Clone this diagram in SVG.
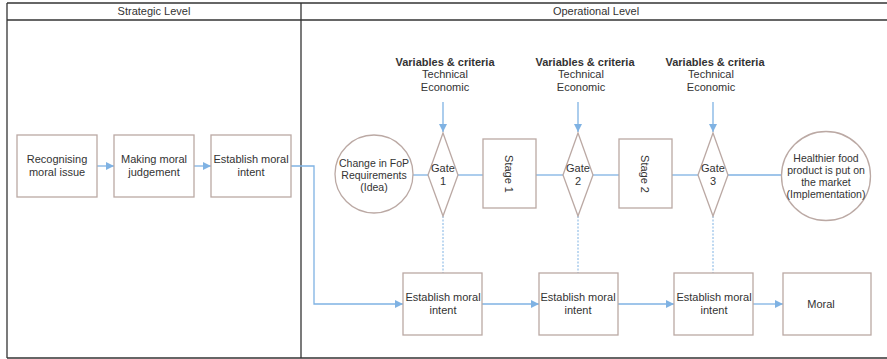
<svg xmlns="http://www.w3.org/2000/svg" width="887" height="359" viewBox="0 0 887 359">
<style>
text{font-family:"Liberation Sans",Arial,sans-serif;font-size:11px;fill:#333;text-anchor:middle}
.b{font-weight:bold}
.frame{fill:none;stroke:#333;stroke-width:1.3}
.node{fill:#fff;stroke:#bba9a4;stroke-width:1.3}
.c{fill:none;stroke:#7fb2e3;stroke-width:1.3}
.d{fill:none;stroke:#7fb2e3;stroke-width:1;stroke-dasharray:2 1.5}
</style>
<defs>
<marker id="ah" viewBox="0 0 10 10" refX="10" refY="5" markerWidth="8" markerHeight="8" markerUnits="userSpaceOnUse" orient="auto">
<path d="M0,0 L10,5 L0,10 z" fill="#7fb2e3"/>
</marker>
</defs>
<g id="frame">
<line class="frame" x1="7" y1="3" x2="887" y2="3"/>
<line class="frame" x1="7" y1="20" x2="887" y2="20"/>
<line class="frame" x1="7" y1="358" x2="887" y2="358"/>
<line class="frame" x1="7" y1="3" x2="7" y2="358"/>
<line class="frame" x1="301" y1="3" x2="301" y2="358"/>
<text x="154" y="15">Strategic Level</text>
<text x="596" y="15">Operational Level</text>
</g>
<g id="connectors">
<line class="c" x1="97" y1="166" x2="114" y2="166" marker-end="url(#ah)"/>
<line class="c" x1="194" y1="166" x2="211" y2="166" marker-end="url(#ah)"/>
<polyline class="c" points="291,166 314,166 314,304 403,304" marker-end="url(#ah)"/>
<line class="c" x1="482" y1="304" x2="539" y2="304" marker-end="url(#ah)"/>
<line class="c" x1="618" y1="304" x2="674" y2="304" marker-end="url(#ah)"/>
<line class="c" x1="753" y1="304" x2="783" y2="304" marker-end="url(#ah)"/>
<line class="c" x1="443" y1="102" x2="443" y2="132" marker-end="url(#ah)"/>
<line class="c" x1="578" y1="102" x2="578" y2="132" marker-end="url(#ah)"/>
<line class="c" x1="713" y1="102" x2="713" y2="132" marker-end="url(#ah)"/>
<line class="c" x1="413" y1="175" x2="428" y2="175"/>
<line class="c" x1="458" y1="175" x2="483" y2="175"/>
<line class="c" x1="536" y1="175" x2="563" y2="175"/>
<line class="c" x1="593" y1="175" x2="619" y2="175"/>
<line class="c" x1="672" y1="175" x2="698" y2="175"/>
<line class="c" x1="728" y1="175" x2="781" y2="175"/>
<line class="d" x1="443" y1="216" x2="443" y2="273"/>
<line class="d" x1="578" y1="216" x2="578" y2="273"/>
<line class="d" x1="713" y1="216" x2="713" y2="273"/>
</g>
<g id="recognising">
<rect class="node" x="17" y="135" width="80" height="62"/>
<text x="57" y="163">Recognising</text>
<text x="57" y="176">moral issue</text>
</g>
<g id="judgement">
<rect class="node" x="114" y="135" width="80" height="62"/>
<text x="154" y="163">Making moral</text>
<text x="154" y="176">judgement</text>
</g>
<g id="intent0">
<rect class="node" x="211" y="135" width="80" height="62"/>
<text x="251" y="163">Establish moral</text>
<text x="251" y="176">intent</text>
</g>
<g id="criteria1">
<text class="b" x="445" y="66">Variables &amp; criteria</text>
<text x="445" y="78">Technical</text>
<text x="445" y="91">Economic</text>
</g>
<g id="criteria2">
<text class="b" x="585" y="66">Variables &amp; criteria</text>
<text x="581" y="78">Technical</text>
<text x="581" y="91">Economic</text>
</g>
<g id="criteria3">
<text class="b" x="715" y="66">Variables &amp; criteria</text>
<text x="711" y="78">Technical</text>
<text x="711" y="91">Economic</text>
</g>
<g id="idea">
<circle class="node" cx="374" cy="174" r="39"/>
<text x="374" y="167" style="font-size:10.5px">Change in FoP</text>
<text x="374" y="179" style="font-size:10.5px">Requirements</text>
<text x="374" y="191" style="font-size:10.5px">(Idea)</text>
</g>
<g id="gate1">
<polygon class="node" points="443,133 458,175 443,216 428,175"/>
<text x="443" y="172">Gate</text>
<text x="443" y="185">1</text>
</g>
<g id="stage1">
<rect class="node" x="483" y="139" width="53" height="69"/>
<text transform="translate(505,174) rotate(90)">Stage 1</text>
</g>
<g id="gate2">
<polygon class="node" points="578,133 593,175 578,216 563,175"/>
<text x="578" y="172">Gate</text>
<text x="578" y="185">2</text>
</g>
<g id="stage2">
<rect class="node" x="619" y="139" width="53" height="69"/>
<text transform="translate(641,174) rotate(90)">Stage 2</text>
</g>
<g id="gate3">
<polygon class="node" points="713,133 728,175 713,216 698,175"/>
<text x="713" y="172">Gate</text>
<text x="713" y="185">3</text>
</g>
<g id="implementation">
<circle class="node" cx="826" cy="176" r="44.5"/>
<text x="826" y="162" style="font-size:10.5px">Healthier food</text>
<text x="826" y="174" style="font-size:10.5px">product is put on</text>
<text x="826" y="186" style="font-size:10.5px">the market</text>
<text x="826" y="198" style="font-size:10.5px">(Implementation)</text>
</g>
<g id="intent1">
<rect class="node" x="403" y="273" width="79" height="62"/>
<text x="443" y="301">Establish moral</text>
<text x="443" y="314">intent</text>
</g>
<g id="intent2">
<rect class="node" x="539" y="273" width="79" height="62"/>
<text x="578" y="301">Establish moral</text>
<text x="578" y="314">intent</text>
</g>
<g id="intent3">
<rect class="node" x="674" y="273" width="79" height="62"/>
<text x="714" y="301">Establish moral</text>
<text x="714" y="314">intent</text>
</g>
<g id="moral">
<rect class="node" x="783" y="273" width="88" height="62"/>
<text x="821" y="308">Moral</text>
</g>
</svg>
